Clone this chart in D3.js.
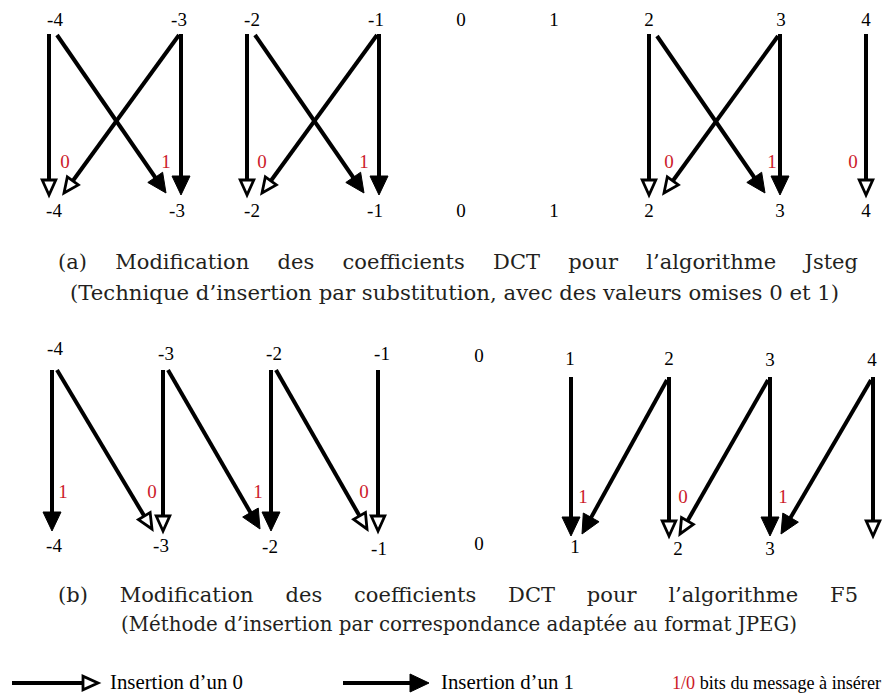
<!DOCTYPE html>
<html>
<head>
<meta charset="utf-8">
<script src="https://cdnjs.cloudflare.com/ajax/libs/d3/7.8.5/d3.min.js"></script>
<style>
  body { margin: 0; background: #fff; }
  svg { display: block; }
</style>
</head>
<body>
<script>
// coefficient values shown on each row
var coefs = [-4, -3, -2, -1, 0, 1, 2, 3, 4];

// Jsteg: arrows (from coefficient -> to coefficient, bit inserted)
var jstegArrows = [
  {from: -4, to: -4, bit: 0}, {from: -4, to: -3, bit: 1},
  {from: -3, to: -3, bit: 1}, {from: -3, to: -4, bit: 0},
  {from: -2, to: -2, bit: 0}, {from: -2, to: -1, bit: 1},
  {from: -1, to: -1, bit: 1}, {from: -1, to: -2, bit: 0},
  {from: 2, to: 2, bit: 0}, {from: 2, to: 3, bit: 1},
  {from: 3, to: 3, bit: 1}, {from: 3, to: 2, bit: 0},
  {from: 4, to: 4, bit: 0}
];
var jstegBits = [
  {near: -4, bit: 0}, {near: -3, bit: 1}, {near: -2, bit: 0}, {near: -1, bit: 1},
  {near: 2, bit: 0}, {near: 3, bit: 1}, {near: 4, bit: 0}
];
var jstegTop = [-4, -3, -2, -1, 0, 1, 2, 3, 4];
var jstegBottom = [-4, -3, -2, -1, 0, 1, 2, 3, 4];

// F5: arrows
var f5Arrows = [
  {from: -4, to: -4, bit: 1}, {from: -4, to: -3, bit: 0},
  {from: -3, to: -3, bit: 0}, {from: -3, to: -2, bit: 1},
  {from: -2, to: -2, bit: 1}, {from: -2, to: -1, bit: 0},
  {from: -1, to: -1, bit: 0},
  {from: 1, to: 1, bit: 1}, {from: 2, to: 1, bit: 1},
  {from: 2, to: 2, bit: 0}, {from: 3, to: 2, bit: 0},
  {from: 3, to: 3, bit: 1}, {from: 4, to: 3, bit: 1},
  {from: 4, to: 4, bit: 0}
];
var f5Bits = [
  {near: -4, bit: 1}, {near: -3, bit: 0}, {near: -2, bit: 1}, {near: -1, bit: 0},
  {near: 1, bit: 1}, {near: 2, bit: 0}, {near: 3, bit: 1}
];
var f5Top = [-4, -3, -2, -1, 0, 1, 2, 3, 4];
var f5Bottom = [-4, -3, -2, -1, 0, 1, 2, 3];

// captions
var captionA1 = ["(a)", "Modification", "des", "coefficients", "DCT", "pour", "l\u2019algorithme", "Jsteg"];
var captionA2 = "(Technique d\u2019insertion par substitution, avec des valeurs omises 0 et 1)";
var captionB1 = ["(b)", "Modification", "des", "coefficients", "DCT", "pour", "l\u2019algorithme", "F5"];
var captionB2 = "(M\u00e9thode d\u2019insertion par correspondance adapt\u00e9e au format JPEG)";

// legend
var legendItems = [{bit: 0, label: "Insertion d\u2019un 0"}, {bit: 1, label: "Insertion d\u2019un 1"}];
var legendNote = ["1/0", " bits du message \u00e0 ins\u00e9rer"];

var width = 883, height = 695;
var red = "#cc1a2a";
var numFont = "'Liberation Serif', 'Times New Roman', serif";
var capFont = "'DejaVu Serif', serif";

var svg = d3.select("body").append("svg")
    .attr("width", width)
    .attr("height", height);

// panel layouts
var panels = [
  {
    arrows: jstegArrows, bits: jstegBits, top: jstegTop, bottom: jstegBottom,
    colX: d3.scaleOrdinal().domain(coefs).range([49, 181, 247, 379, 461, 554, 649, 780, 866]),
    topX: d3.scaleOrdinal().domain(coefs).range([55, 179, 252, 376, 461, 554, 649, 781, 866]),
    botX: d3.scaleOrdinal().domain(coefs).range([54, 177, 252, 375, 461, 554, 649, 780, 866]),
    topY: function(c) { return 26; },
    botY: function(c) { return 217; },
    y0: function(c) { return 34; },
    y1: function(c) { return 195; },
    diagY0: function(c) { return c < 0 ? 35 : 36; },
    startOff: 8, endOff: 15,
    bitX: d3.scaleOrdinal().domain(coefs).range([65, 166, 262, 364, 0, 0, 669, 772, 853]),
    bitY: function(c) { return 168; }
  },
  {
    arrows: f5Arrows, bits: f5Bits, top: f5Top, bottom: f5Bottom,
    colX: d3.scaleOrdinal().domain(coefs).range([52, 163, 271, 378, 479, 571, 669, 770, 873]),
    topX: d3.scaleOrdinal().domain(coefs).range([55, 166, 274, 382, 479, 570, 669, 770, 872]),
    botX: d3.scaleOrdinal().domain(coefs).range([54, 161, 270, 379, 479, 575, 678, 770, 873]),
    topY: d3.scaleOrdinal().domain(coefs).range([355, 360, 360, 360, 362, 365, 365, 366, 366]),
    botY: d3.scaleOrdinal().domain(coefs).range([552, 552, 553, 555, 550, 553, 555, 555, 555]),
    y0: function(c) { return c < 0 ? 370 : 377; },
    y1: function(c) { return c < 0 ? 531 : 536; },
    diagY0: function(c) { return c < 0 ? 370 : 380; },
    startOff: 5, endOff: 11,
    bitX: d3.scaleOrdinal().domain(coefs).range([63, 152, 258, 364, 0, 583, 683, 783, 0]),
    bitY: function(c) { return c < 0 ? 498 : 503; }
  }
];

// draws a line ending in an arrow head (open for bit 0, filled for bit 1)
function drawArrow(g, x0, y0, x1, y1, bit) {
  var dx = x1 - x0, dy = y1 - y0, len = Math.sqrt(dx * dx + dy * dy);
  var ux = dx / len, uy = dy / len, px = -uy, py = ux;
  var hl = bit ? 19 : 15, hw = bit ? 9 : 6.8;
  var bx = x1 - ux * hl, by = y1 - uy * hl;
  g.append("line")
      .attr("x1", x0).attr("y1", y0)
      .attr("x2", bx + ux * 2).attr("y2", by + uy * 2)
      .attr("stroke", "#000")
      .attr("stroke-width", 4);
  var pts = [[x1, y1], [bx + px * hw, by + py * hw], [bx - px * hw, by - py * hw]];
  g.append("polygon")
      .attr("points", pts.map(function(p) { return p.join(","); }).join(" "))
      .attr("fill", bit ? "#000" : "#fff")
      .attr("stroke", "#000")
      .attr("stroke-width", bit ? 1 : 2.8)
      .attr("stroke-linejoin", "miter");
}

panels.forEach(function(p) {
  var g = svg.append("g");

  // coefficient labels
  g.selectAll(".top")
      .data(p.top)
    .enter().append("text")
      .attr("x", function(d) { return p.topX(d); })
      .attr("y", function(d) { return p.topY(d); })
      .attr("text-anchor", "middle")
      .style("font-family", numFont)
      .style("font-size", "19px")
      .text(function(d) { return d; });

  g.selectAll(".bot")
      .data(p.bottom)
    .enter().append("text")
      .attr("x", function(d) { return p.botX(d); })
      .attr("y", function(d) { return p.botY(d); })
      .attr("text-anchor", "middle")
      .style("font-family", numFont)
      .style("font-size", "19px")
      .text(function(d) { return d; });

  // arrows
  p.arrows.forEach(function(a) {
    var x0, x1, y0, y1;
    if (a.from === a.to) {
      x0 = x1 = p.colX(a.from);
      y0 = p.y0(a.from);
      y1 = p.y1(a.from);
    } else {
      var s = a.to > a.from ? 1 : -1;
      x0 = p.colX(a.from) + s * (s > 0 ? p.startOff : 2);
      x1 = p.colX(a.to) - s * p.endOff;
      y0 = p.diagY0(a.from);
      y1 = p.y1(a.to) - 2;
    }
    drawArrow(g, x0, y0, x1, y1, a.bit);
  });

  // red bit labels
  g.selectAll(".bit")
      .data(p.bits)
    .enter().append("text")
      .attr("x", function(d) { return p.bitX(d.near); })
      .attr("y", function(d) { return p.bitY(d.near); })
      .attr("text-anchor", "middle")
      .attr("fill", red)
      .style("font-family", numFont)
      .style("font-size", "19px")
      .text(function(d) { return d.bit; });
});

// justified first caption line, plain second line
function caption(words, line2, y1, y2, x2a, x2b) {
  var left = 58, right = 858;
  var t = svg.append("g").selectAll("text")
      .data(words)
    .enter().append("text")
      .attr("y", y1)
      .style("font-family", capFont)
      .style("font-size", "21px")
      .attr("fill", "#231f20")
      .text(function(d) { return d; });
  var widths = [];
  t.each(function() { widths.push(this.getComputedTextLength()); });
  var gap = (right - left - d3.sum(widths)) / (words.length - 1);
  var x = left;
  t.attr("x", function(d, i) { var xi = x; x += widths[i] + gap; return xi; });

  svg.append("text")
      .attr("x", x2a)
      .attr("y", y2)
      .attr("textLength", x2b - x2a)
      .attr("lengthAdjust", "spacingAndGlyphs")
      .attr("fill", "#231f20")
      .style("font-family", capFont)
      .style("font-size", "21px")
      .text(line2);
}
caption(captionA1, captionA2, 269, 300, 70, 839);
caption(captionB1, captionB2, 602, 631, 121, 797);

// legend
var legendX = d3.scaleOrdinal().domain([0, 1]).range([12, 343]);
var lg = svg.append("g");
legendItems.forEach(function(d) {
  var x = legendX(d.bit);
  drawArrow(lg, x, 683, x + 86, 683, d.bit);
  lg.append("text")
      .attr("x", x + 98)
      .attr("y", 689)
      .attr("textLength", 133)
      .attr("lengthAdjust", "spacingAndGlyphs")
      .style("font-family", numFont)
      .style("font-size", "20px")
      .text(d.label);
});
var note = lg.append("text")
    .attr("x", 672)
    .attr("y", 689)
    .attr("textLength", 209)
    .attr("lengthAdjust", "spacingAndGlyphs")
    .style("font-family", numFont)
    .style("font-size", "18px");
note.append("tspan").attr("fill", red).text(legendNote[0]);
note.append("tspan").attr("fill", "#000").text(legendNote[1]);
</script>
</body>
</html>
